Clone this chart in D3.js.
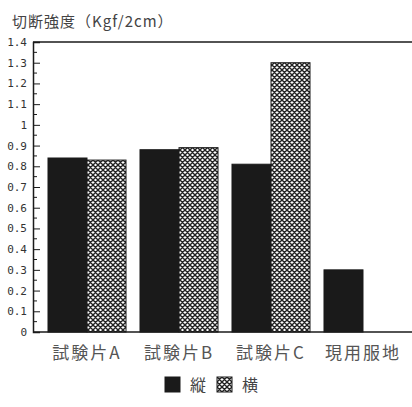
<!DOCTYPE html>
<html>
<head>
<meta charset="utf-8">
<script src="https://cdn.jsdelivr.net/npm/d3@7"></script>
<style>
    body { margin: 0; background: #fff; }
    svg { display: block; }
</style>
</head>
<body>
<svg id="chart" width="412" height="407"></svg>
<script>
// breaking strength per test piece, warp vs weft
const categories = ['試験片A', '試験片B', '試験片C', '現用服地'];
const seriesNames = ['縦', '横'];
const warp = [0.84, 0.88, 0.81, 0.30];
const weft = [0.83, 0.89, 1.30, null];
const yTicks = [0, 0.1, 0.2, 0.3, 0.4, 0.5, 0.6, 0.7, 0.8, 0.9, 1, 1.1, 1.2, 1.3, 1.4];

const svg = d3.select('#chart');
const plotL = 33, plotR = 412, plotT = 42, plotB = 332;
const ink = '#1a1a1a';

// crosshatch fill for the second series
const defs = svg.append('defs');
const pat = defs.append('pattern')
    .attr('id', 'hatch')
    .attr('patternUnits', 'userSpaceOnUse')
    .attr('width', 5).attr('height', 5);
pat.append('rect').attr('width', 5).attr('height', 5).attr('fill', '#fff');
pat.append('path')
    .attr('d', 'M0,0L5,5M5,0L0,5M-1,4L1,6M4,-1L6,1M4,6L6,4M-1,1L1,-1')
    .attr('stroke', '#222')
    .attr('stroke-width', 1.4);

const y = d3.scaleLinear().domain([0, 1.4]).range([plotB, plotT]);
const x = d3.scaleBand().domain(categories).range([plotL, 417])
    .paddingInner(0.152).paddingOuter(0.163);
const xs = d3.scaleBand().domain(seriesNames).range([0, x.bandwidth()]);

// title
svg.append('text')
    .attr('x', 12).attr('y', 27)
    .attr('font-family', '"Noto Sans CJK JP", sans-serif')
    .attr('font-size', 15)
    .attr('letter-spacing', 1)
    .attr('fill', '#444')
    .text('切断強度（Kgf/2cm）');

// bars
const rows = categories.map((c, i) => ({ cat: c, vals: [warp[i], weft[i]] }));
const groups = svg.append('g').selectAll('g')
    .data(rows).enter().append('g')
    .attr('transform', d => `translate(${x(d.cat)},0)`);

groups.selectAll('rect')
    .data(d => d.vals.map((v, j) => ({ key: seriesNames[j], v })).filter(e => e.v != null))
    .enter().append('rect')
    .attr('x', d => xs(d.key))
    .attr('y', d => y(d.v))
    .attr('width', xs.bandwidth())
    .attr('height', d => plotB - y(d.v))
    .attr('fill', d => d.key === '縦' ? ink : 'url(#hatch)')
    .attr('stroke', ink)
    .attr('stroke-width', 1);

// frame lines
svg.append('line').attr('x1', plotL).attr('x2', plotR).attr('y1', plotT).attr('y2', plotT)
    .attr('stroke', ink).attr('stroke-width', 1.5);
svg.append('line').attr('x1', plotL).attr('x2', plotR).attr('y1', plotB).attr('y2', plotB)
    .attr('stroke', ink).attr('stroke-width', 1.5);

// y axis with inward ticks
const yAxis = svg.append('g').attr('transform', `translate(${plotL},0)`)
    .call(d3.axisRight(y).tickValues(yTicks).tickSize(7).tickFormat(''));
yAxis.select('.domain').attr('stroke', ink).attr('stroke-width', 1.5);
yAxis.selectAll('.tick line').attr('stroke', ink);

const minor = d3.range(0.05, 1.4, 0.1);
svg.append('g').selectAll('line')
    .data(minor).enter().append('line')
    .attr('x1', plotL).attr('x2', plotL + 4)
    .attr('y1', d => y(d)).attr('y2', d => y(d))
    .attr('stroke', ink);

svg.append('g').selectAll('text')
    .data(yTicks).enter().append('text')
    .attr('x', 27)
    .attr('y', d => y(d) + 4)
    .attr('text-anchor', 'end')
    .attr('font-family', '"DejaVu Sans Mono", monospace')
    .attr('font-size', 11)
    .attr('fill', '#333')
    .text(d => d3.format('~g')(d));

// category labels
svg.append('g').selectAll('text')
    .data(categories).enter().append('text')
    .attr('x', d => x(d) + x.bandwidth() / 2)
    .attr('y', 359)
    .attr('text-anchor', 'middle')
    .attr('font-family', '"Noto Sans CJK JP", sans-serif')
    .attr('font-size', 17)
    .attr('letter-spacing', 2)
    .attr('fill', '#555')
    .text(d => d);

// legend
const legend = svg.append('g').selectAll('g')
    .data(seriesNames).enter().append('g')
    .attr('transform', (d, i) => `translate(${165 + i * 52},377)`);
legend.append('rect')
    .attr('width', 15).attr('height', 15)
    .attr('fill', d => d === '縦' ? ink : 'url(#hatch)')
    .attr('stroke', ink);
legend.append('text')
    .attr('x', 25).attr('y', 14)
    .attr('font-family', '"Noto Sans CJK JP", sans-serif')
    .attr('font-size', 16)
    .attr('fill', '#444')
    .text(d => d);
</script>
</body>
</html>
